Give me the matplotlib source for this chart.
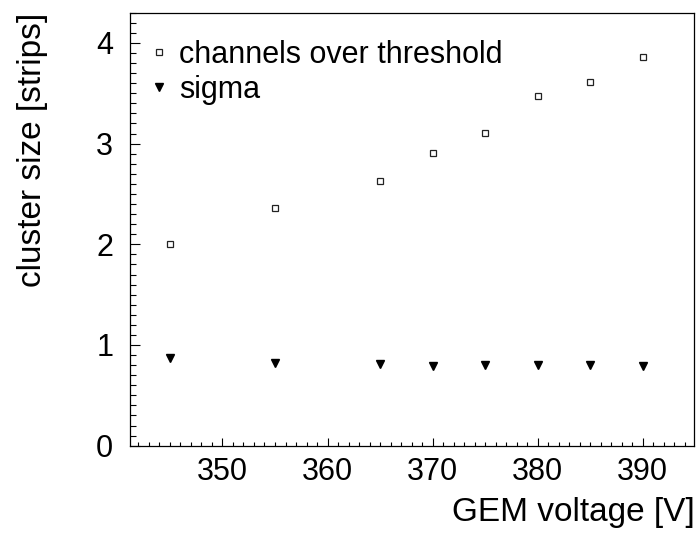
import numpy as np
import matplotlib
matplotlib.use('Agg')
import matplotlib.pyplot as plt
from matplotlib.ticker import MultipleLocator

plt.rcParams['font.family'] = ['Liberation Sans', 'DejaVu Sans']

# GEM voltage [V]
voltage = [345, 355, 365, 370, 375, 380, 385, 390]
# cluster size [strips]
channels_over_thr = [2.00, 2.36, 2.63, 2.91, 3.11, 3.47, 3.61, 3.86]
sigma = [0.87, 0.82, 0.81, 0.79, 0.80, 0.80, 0.80, 0.79]

fs = 22
title_fs = 24

fig = plt.figure(figsize=(6.97, 5.33), dpi=100)
ax = fig.add_axes([0.1865, 0.1638, 0.8096, 0.8124])

ax.plot(voltage, channels_over_thr, linestyle='none', marker='s', markersize=4.3,
        markerfacecolor='white', markeredgecolor='#222222', markeredgewidth=0.9,
        label='channels over threshold')
ax.plot(voltage, sigma, linestyle='none', marker='v', markersize=5.2,
        color='black', label='sigma')

ax.set_xlim(341.2, 394.9)
ax.set_ylim(0, 4.3)
ax.xaxis.set_major_locator(MultipleLocator(10))
ax.xaxis.set_minor_locator(MultipleLocator(1))
ax.yaxis.set_major_locator(MultipleLocator(1))
ax.yaxis.set_minor_locator(MultipleLocator(0.1))

ax.tick_params(which='both', direction='in', top=False, right=False, labelsize=fs, width=0.8)
ax.tick_params(axis='x', which='major', length=6, pad=8)
ax.tick_params(axis='x', which='minor', length=3)
ax.tick_params(axis='y', which='major', length=7, pad=12)
ax.tick_params(axis='y', which='minor', length=4)
for s in ax.spines.values():
    s.set_linewidth(0.9)

ax.set_xlabel('GEM voltage [V]', fontsize=title_fs, loc='right', labelpad=7)
ax.set_ylabel('cluster size [strips]', fontsize=title_fs, loc='top', labelpad=35)

ax.legend(loc='upper left', bbox_to_anchor=(0.0354, 0.937), borderaxespad=0,
          borderpad=0, frameon=False, fontsize=fs, handlelength=0.6,
          handletextpad=0.35, labelspacing=0.16, markerscale=1.0)

fig.savefig('out.png', dpi=100)
